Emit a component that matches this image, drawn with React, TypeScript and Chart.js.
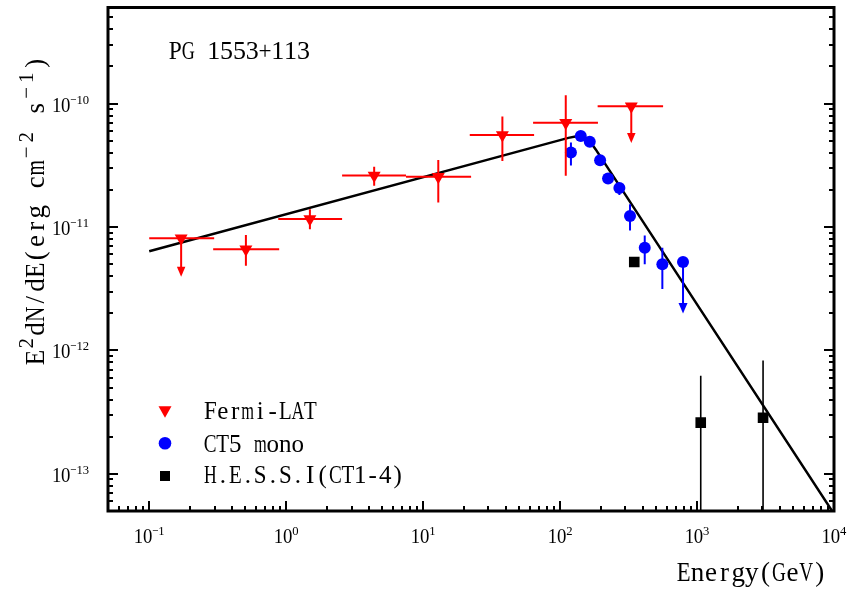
import React, { useEffect, useRef } from "react";
import { Chart, registerables } from "chart.js";

Chart.register(...registerables);

// ---- axis ranges / ticks ----
const X_MIN = 0.05;
const X_MAX = 1e4;
const Y_MIN = 5e-14;
const Y_MAX = 6e-10;
const xTickExponents = [-1, 0, 1, 2, 3, 4];
const yTickExponents = [-10, -11, -12, -13];

// ---- Fermi-LAT ----
const fermiE = [0.171, 0.508, 1.49, 4.39, 12.9, 37.9, 110, 331];
const fermiF = [8.1e-12, 6.6e-12, 1.16e-11, 2.61e-11, 2.55e-11, 5.57e-11, 7.0e-11, 9.5e-11];
const fermiELo = [0.1, 0.293, 0.875, 2.56, 7.5, 21.9, 63.5, 188];
const fermiEHi = [0.298, 0.889, 2.56, 7.5, 22.4, 64.6, 189, 565];
const fermiFLo = [null, 4.85e-12, 9.6e-12, 2.16e-11, 1.58e-11, 3.43e-11, 2.6e-11, null];
const fermiFHi = [null, 8.6e-12, 1.39e-11, 3.07e-11, 3.49e-11, 7.87e-11, 1.17e-10, null];
const fermiUL = [3.95e-12, null, null, null, null, null, null, 4.78e-11];

// ---- CT5 mono ----
const ctE = [120, 141.6, 164.7, 196, 224, 271, 324, 415, 558, 790];
const ctF = [4.02e-11, 5.47e-11, 4.9e-11, 3.47e-11, 2.47e-11, 2.07e-11, 1.23e-11, 6.79e-12, 4.99e-12, 5.21e-12];
const ctFLo = [3.15e-11, 5.2e-11, 4.65e-11, 3.3e-11, 2.35e-11, 1.82e-11, 9.35e-12, 4.99e-12, 3.15e-12, null];
const ctFHi = [4.83e-11, 5.75e-11, 5.15e-11, 3.65e-11, 2.6e-11, 2.2e-11, 1.53e-11, 8.53e-12, 6.79e-12, null];
const ctUL = [null, null, null, null, null, null, null, null, null, 1.99e-12];

// ---- H.E.S.S. I ----
const hessE = [348, 1064, 3034];
const hessF = [5.2e-12, 2.6e-13, 2.85e-13];
const hessFLo = [4.95e-12, 1e-15, 1e-15];
const hessFHi = [5.45e-12, 6.24e-13, 8.3e-13];

// ---- broken power-law model ----
const modelE = [0.1, 115, 135, 150, 165, 182, 1e4];
const modelF = [6.35e-12, 5.27e-11, 5.45e-11, 5.41e-11, 4.95e-11, 4.25e-11, 4.74e-14];

// ---- texts ----
const legendLabels = ["Fermi-LAT", "CT5 mono", "H.E.S.S.I(CT1-4)"];
const sourceLabel = "PG 1553+113";
const xTitle = "Energy(GeV)";
const yTitleParts: [string, boolean][] = [
  ["E", false],
  ["2", true],
  ["dN/dE(erg cm", false],
  ["\u22122", true],
  [" s", false],
  ["\u22121", true],
  [")", false],
];

const FONT = '"Liberation Serif", "DejaVu Serif", serif';
const RED = "#ff0000";
const BLUE = "#0000ff";

type ErrCfg = {
  color: string;
  width: number;
  E: number[];
  F: number[];
  ELo?: (number | null)[];
  EHi?: (number | null)[];
  FLo: (number | null)[];
  FHi: (number | null)[];
  UL: (number | null)[];
  headW: number;
  headH: number;
};

const errCfgs: Record<number, ErrCfg> = {
  1: { color: "#000", width: 1.6, E: hessE, F: hessF, FLo: hessFLo, FHi: hessFHi, UL: [null, null, null], headW: 9, headH: 10 },
  2: { color: BLUE, width: 2, E: ctE, F: ctF, FLo: ctFLo, FHi: ctFHi, UL: ctUL, headW: 9, headH: 10.5 },
  3: { color: RED, width: 2, E: fermiE, F: fermiF, ELo: fermiELo, EHi: fermiEHi, FLo: fermiFLo, FHi: fermiFHi, UL: fermiUL, headW: 8.5, headH: 10 },
};

function drawMono(ctx: CanvasRenderingContext2D, text: string, x: number, y: number, size: number, cell: number) {
  ctx.font = `${size}px ${FONT}`;
  ctx.textAlign = "center";
  ctx.textBaseline = "alphabetic";
  for (let i = 0; i < text.length; i++) {
    const ch = text[i];
    if (ch === " ") continue;
    ctx.fillText(ch, x + cell * (i + 0.5), y, cell * 1.02);
  }
}

function drawPow(ctx: CanvasRenderingContext2D, exp: number, x: number, y: number, align: "center" | "right") {
  const base = "10";
  const sup = exp < 0 ? "\u2212" + Math.abs(exp) : String(exp);
  const baseCell = 9.2;
  const supCell = 6.2;
  const total = base.length * baseCell + sup.length * supCell;
  const start = align === "center" ? x - total / 2 : x - total;
  drawMono(ctx, base, start, y, 21, baseCell);
  drawMono(ctx, sup, start + base.length * baseCell, y - 8, 13.5, supCell);
}

const errPlugin = {
  id: "errbars",
  beforeDatasetDraw(chart: any, args: any) {
    const cfg = errCfgs[args.index];
    if (!cfg) return;
    const { ctx, chartArea: a } = chart;
    const xs = chart.scales.x;
    const ys = chart.scales.y;
    ctx.save();
    ctx.beginPath();
    ctx.rect(a.left, a.top, a.right - a.left, a.bottom - a.top);
    ctx.clip();
    ctx.strokeStyle = cfg.color;
    ctx.fillStyle = cfg.color;
    ctx.lineWidth = cfg.width;
    for (let i = 0; i < cfg.E.length; i++) {
      const px = xs.getPixelForValue(cfg.E[i]);
      const py = ys.getPixelForValue(cfg.F[i]);
      ctx.beginPath();
      if (cfg.ELo && cfg.EHi && cfg.ELo[i] != null && cfg.EHi[i] != null) {
        ctx.moveTo(xs.getPixelForValue(cfg.ELo[i]!), py);
        ctx.lineTo(xs.getPixelForValue(cfg.EHi[i]!), py);
      }
      if (cfg.FLo[i] != null && cfg.FHi[i] != null) {
        ctx.moveTo(px, ys.getPixelForValue(cfg.FHi[i]!));
        ctx.lineTo(px, ys.getPixelForValue(cfg.FLo[i]!));
      }
      ctx.stroke();
      if (cfg.UL[i] != null) {
        const tip = ys.getPixelForValue(cfg.UL[i]!);
        ctx.beginPath();
        ctx.moveTo(px, py);
        ctx.lineTo(px, tip - cfg.headH + 1);
        ctx.stroke();
        ctx.beginPath();
        ctx.moveTo(px - cfg.headW / 2, tip - cfg.headH);
        ctx.lineTo(px + cfg.headW / 2, tip - cfg.headH);
        ctx.lineTo(px, tip);
        ctx.closePath();
        ctx.fill();
      }
    }
    ctx.restore();
  },
};

const framePlugin = {
  id: "frame",
  afterDraw(chart: any) {
    const { ctx, chartArea: a } = chart;
    const xs = chart.scales.x;
    const ys = chart.scales.y;
    ctx.save();
    ctx.strokeStyle = "#000";
    ctx.fillStyle = "#000";
    // ticks
    ctx.lineWidth = 2;
    ctx.beginPath();
    for (let d = -2; d <= 4; d++) {
      for (let m = 1; m <= 9; m++) {
        const v = m * Math.pow(10, d);
        if (v <= X_MIN * 1.0001 || v >= X_MAX * 0.9999) continue;
        const px = Math.round(xs.getPixelForValue(v));
        const len = m === 1 ? 10 : 5;
        ctx.moveTo(px, a.bottom);
        ctx.lineTo(px, a.bottom - len);
      }
    }
    for (let d = -15; d <= -9; d++) {
      for (let m = 1; m <= 9; m++) {
        const v = m * Math.pow(10, d);
        if (v <= Y_MIN * 1.0001 || v >= Y_MAX * 0.9999) continue;
        const py = Math.round(ys.getPixelForValue(v));
        const len = m === 1 ? 10 : 5;
        ctx.moveTo(a.left, py);
        ctx.lineTo(a.left + len, py);
        ctx.moveTo(a.right, py);
        ctx.lineTo(a.right - len, py);
      }
    }
    ctx.stroke();
    // frame
    ctx.lineWidth = 3;
    ctx.strokeRect(a.left, a.top, a.right - a.left, a.bottom - a.top);

    // tick labels
    for (const e of xTickExponents) {
      const px = xs.getPixelForValue(Math.pow(10, e));
      drawPow(ctx, e, px, 543, "center");
    }
    for (const e of yTickExponents) {
      const py = ys.getPixelForValue(Math.pow(10, e));
      drawPow(ctx, e, 89, py + 8, "right");
    }

    // source label
    drawMono(ctx, sourceLabel, 169, 59, 26, 12.8);
    // x title
    drawMono(ctx, xTitle, 677, 581, 27, 13.6);

    // y title (rotated)
    ctx.save();
    ctx.translate(44, 365);
    ctx.rotate(-Math.PI / 2);
    const mainCell = 13.6;
    const supDigit = 13;
    const supMinus = 15;
    let natural = 0;
    for (const [t, sup] of yTitleParts) {
      for (const ch of t) natural += sup ? (ch === "\u2212" ? supMinus : supDigit) : mainCell;
    }
    const k = 309 / natural;
    let cx = 0;
    ctx.textAlign = "center";
    ctx.textBaseline = "alphabetic";
    for (const [t, sup] of yTitleParts) {
      for (const ch of t) {
        const w = (sup ? (ch === "\u2212" ? supMinus : supDigit) : mainCell) * k;
        if (ch !== " ") {
          ctx.font = sup ? `21px ${FONT}` : `27px ${FONT}`;
          ctx.fillText(ch, cx + w / 2, sup ? -11 : 0, w * 1.05);
        }
        cx += w;
      }
    }
    ctx.restore();

    // legend
    const lx = 165;
    const rows = [411.7, 443.3, 476];
    ctx.fillStyle = RED;
    ctx.beginPath();
    ctx.moveTo(lx - 6.5, rows[0] - 5.5);
    ctx.lineTo(lx + 6.5, rows[0] - 5.5);
    ctx.lineTo(lx, rows[0] + 6);
    ctx.closePath();
    ctx.fill();
    ctx.fillStyle = BLUE;
    ctx.beginPath();
    ctx.arc(lx, rows[1], 6.3, 0, Math.PI * 2);
    ctx.fill();
    ctx.fillStyle = "#000";
    ctx.fillRect(lx - 5, rows[2] - 5, 10, 10);
    const baselines = [419, 452, 483];
    legendLabels.forEach((t, i) => drawMono(ctx, t, 204, baselines[i], 25, 12.5));
    ctx.restore();
  },
};

export default function App() {
  const ref = useRef<HTMLCanvasElement>(null);
  useEffect(() => {
    const canvas = ref.current!;
    const chart = new Chart(canvas, {
      type: "scatter",
      data: {
        datasets: [
          {
            type: "line",
            label: "model",
            data: modelE.map((e, i) => ({ x: e, y: modelF[i] })),
            borderColor: "#000",
            borderWidth: 2.5,
            pointRadius: 0,
            fill: false,
            order: 3,
          } as any,
          {
            label: legendLabels[2],
            data: hessE.map((e, i) => ({ x: e, y: hessF[i] })),
            pointStyle: "rect",
            pointRadius: 7.5,
            backgroundColor: "#000",
            borderWidth: 0,
            order: 2,
          },
          {
            label: legendLabels[1],
            data: ctE.map((e, i) => ({ x: e, y: ctF[i] })),
            pointStyle: "circle",
            pointRadius: 6,
            backgroundColor: BLUE,
            borderWidth: 0,
            order: 1,
          },
          {
            label: legendLabels[0],
            data: fermiE.map((e, i) => ({ x: e, y: fermiF[i] })),
            pointStyle: "triangle",
            rotation: 180,
            pointRadius: 7.5,
            backgroundColor: RED,
            borderWidth: 0,
            order: 0,
          },
        ],
      },
      options: {
        responsive: false,
        animation: false,
        devicePixelRatio: 1,
        layout: { padding: { left: 108, right: 16, top: 4, bottom: 83 } },
        scales: {
          x: { type: "logarithmic", min: X_MIN, max: X_MAX, display: false },
          y: { type: "logarithmic", min: Y_MIN, max: Y_MAX, display: false },
        },
        plugins: {
          legend: { display: false },
          tooltip: { enabled: false },
        },
        events: [],
      },
      plugins: [errPlugin, framePlugin],
    });
    return () => chart.destroy();
  }, []);
  return (
    <div style={{ position: "fixed", left: 0, top: 0, width: 850, height: 594, background: "#fff" }}>
      <canvas ref={ref} width={850} height={594} style={{ display: "block" }} />
    </div>
  );
}
